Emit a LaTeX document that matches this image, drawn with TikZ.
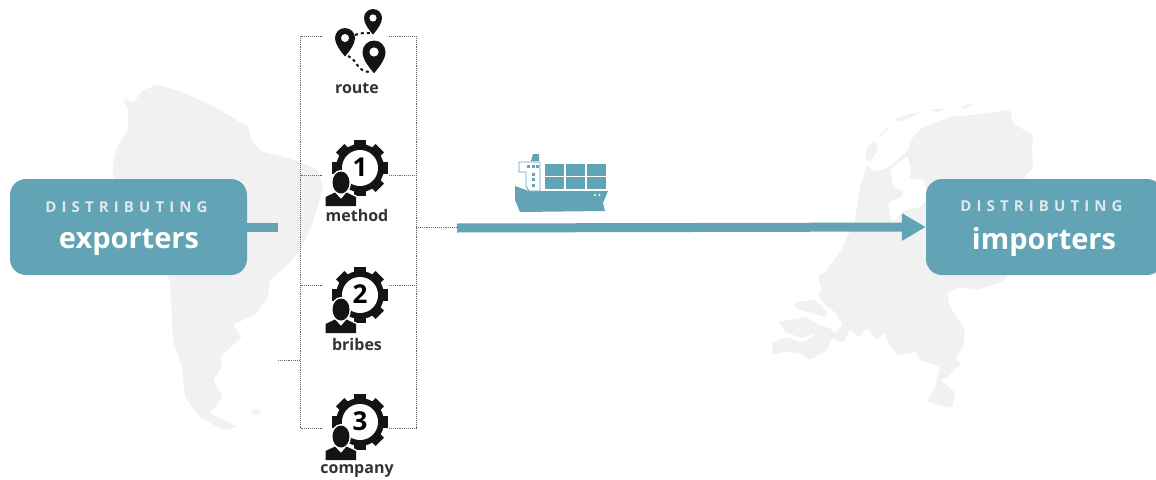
\documentclass[tikz,border=0pt]{standalone}
\usepackage{fontspec}
\setmainfont{Open Sans}
\newfontfamily\spacedfont[LetterSpace=34]{Open Sans}
\usetikzlibrary{arrows.meta}
\definecolor{flow teal}{HTML}{62A4B6}
\definecolor{map grey}{HTML}{F1F1F1}
\definecolor{icon black}{HTML}{141414}
\definecolor{label dark}{HTML}{333333}
\definecolor{caption light}{HTML}{DFE8EA}
\def\personbody{(-34.5,38) -- (-34.5,29) -- (-25,24.5) -- (-19,31) -- (-13.5,24.5) -- (-4,29) -- (-4,38) -- cycle}
\def\personhead{(-19,14.5) ellipse (8.5 and 11)}
\tikzset{
  mapshape/.style={fill=map grey,rounded corners=1.5pt},
  seagap/.style={fill=white,rounded corners=1.5pt},
  partybox/.style={fill=flow teal,rounded corners=16pt,minimum width=237pt,minimum height=96pt,inner sep=0pt},
  caption/.style={text=caption light,font=\spacedfont\bfseries\fontsize{15}{17}\selectfont},
  partyname/.style={text=white,font=\bfseries\fontsize{29}{33}\selectfont},
  iconlabel/.style={text=label dark,font=\bfseries\fontsize{16}{19}\selectfont},
  flowline/.style={draw=flow teal,line width=9pt},
  bracket/.style={draw=black!60,line width=.9pt,densely dotted},
  pin/.pic={
    \fill[icon black] (0,1.85) .. controls (-.5,1.25) and (-1,.6) .. (-1,0) .. controls (-1,-.55) and (-.55,-1) .. (0,-1) .. controls (.55,-1) and (1,-.55) .. (1,0) .. controls (1,.6) and (.5,1.25) .. (0,1.85) -- cycle;
    \fill[white] (0,0) circle (.4);
  },
  pics/gearman/.style={code={
    \foreach \a in {0,45,...,315}
      \fill[icon black,rotate=\a] (-6,-28) rectangle (6,0);
    \fill[icon black] (0,0) circle (24);
    \fill[white] (0,0) circle (18);
    \node[text=black,font=\bfseries\fontsize{26}{26}\selectfont,inner sep=0pt] (-digit) at (0,-1) {#1};
    \draw[white,line width=3pt,line join=round] \personbody;
    \draw[white,line width=3pt] \personhead;
    \fill[icon black] \personbody;
    \fill[icon black] \personhead;
  }},
}
\begin{document}
\begin{tikzpicture}[x=1pt,y=-1pt]
\useasboundingbox (0,0) rectangle (1156,479);

% south america
\fill[mapshape] (157,85) -- (177,90) -- (200,100) -- (217,108) -- (233,118) -- (248,127) -- (253,143) -- (263,152) -- (277,155) -- (300,162) -- (318,170) -- (323,187) -- (318,205) -- (312,225) -- (303,245) -- (290,263) -- (280,272) -- (270,280) -- (268,297) -- (257,313) -- (233,325) -- (242,337) -- (220,357) -- (222,367) -- (213,380) -- (223,397) -- (210,413) -- (238,427) -- (223,430) -- (200,417) -- (185,397) -- (182,367) -- (173,340) -- (170,280) -- (140,240) -- (113,178) -- (113,163) -- (117,147) -- (128,130) -- (128,110) -- (123,98) -- (133,103) -- (143,90) -- cycle;
\fill[mapshape] (250,411) -- (262,410) -- (258,415) -- (252,414) -- cycle;

% netherlands
\fill[mapshape] (950,117) -- (973,115) -- (1010,110) -- (1013,123) -- (1027,132) -- (1033,135) -- (1032,150) -- (1033,167) -- (1023,180) -- (1030,230) -- (1007,277) -- (1000,283) -- (977,290) -- (960,287) -- (947,293) -- (950,307) -- (957,317) -- (965,330) -- (963,347) -- (955,360) -- (962,363) -- (947,377) -- (940,380) -- (955,392) -- (952,408) -- (927,402) -- (935,387) -- (940,367) -- (920,360) -- (917,352) -- (898,355) -- (888,343) -- (885,332) -- (877,340) -- (867,328) -- (858,337) -- (850,330) -- (843,343) -- (832,337) -- (827,350) -- (810,360) -- (800,353) -- (783,352) -- (773,355) -- (772,342) -- (787,337) -- (803,343) -- (817,333) -- (835,333) -- (843,325) -- (835,312) -- (825,305) -- (818,295) -- (822,290) -- (818,275) -- (825,273) -- (843,247) -- (855,220) -- (860,187) -- (867,165) -- (873,172) -- (888,168) -- (907,152) -- (913,137) -- (923,127) -- cycle;
\fill[seagap] (890,170) -- (907,156) -- (911,167) -- (909,178) -- (925,181) -- (927,200) -- (918,208) -- (905,210) -- (892,222) -- (888,203) -- (902,197) -- (903,190) -- (893,187) -- cycle;
\fill[mapshape] (875,140) -- (878,150) -- (870,162) -- (865,158) -- (867,147) -- cycle;
\fill[mapshape] (877,137) -- (890,126) -- (882,136) -- cycle;
\fill[mapshape] (895,118) -- (923,111) -- (905,120) -- (896,122) -- cycle;
\fill[mapshape] (928,110) -- (948,108) -- (936,112) -- cycle;
\fill[mapshape] (960,107) -- (975,103) -- (970,107) -- (962,109) -- cycle;
\fill[mapshape] (795,302) -- (815,300) -- (827,312) -- (827,317) -- (810,313) -- (795,308) -- cycle;
\fill[mapshape] (778,322) -- (807,317) -- (813,322) -- (833,330) -- (833,335) -- (815,333) -- (803,338) -- (787,333) -- cycle;

\node[partybox] (exporters) at (128.5,227) {};
\node[partybox] (importers) at (1044.5,227) {};
\node[caption] (exportcap) at (126.5,207) {DISTRIBUTING};
\node[partyname] (exportname) at (129,242) {exporters};
\node[caption] (importcap) at (1041.5,206) {DISTRIBUTING};
\node[partyname] (importname) at (1044,241.5) {importers};

\coordinate (stubend) at (278,227);
\coordinate (trunk) at (416,227);
\coordinate (linestart) at (457,228);
\draw[flowline] (exporters.east) -- (stubend);
\draw[flowline,-{Triangle[length=24pt,width=26pt]}] (linestart) -- (importers.west);

% dotted bracket
\coordinate (topleft) at (300.5,36);
\coordinate (topright) at (416,36);
\coordinate (botleft) at (300.5,428);
\coordinate (botright) at (416,428);
\coordinate (leftstub) at (278,360.5);
\draw[bracket] (topleft) -- (botleft) (topright) -- (botright);
\draw[bracket] (leftstub) -- (leftstub -| botleft);
\draw[bracket] (trunk) -- (linestart |- trunk);
\foreach \y in {36,175,285,428} {
  \draw[bracket] (300.5,\y) -- (323,\y);
  \draw[bracket] (389,\y) -- (416,\y);
}

% route icon
\draw[icon black,line width=2pt,dashed] (355,35) .. controls (360,33) and (364,33) .. (370,33);
\draw[icon black,line width=2pt,dashed] (348,56) .. controls (358,60) and (356,72) .. (371,72);
\pic[scale=9] at (373,18) {pin};
\pic[scale=10] at (345,38) {pin};
\pic[scale=11.5] at (374,52) {pin};
\node[iconlabel] (route) at (357,88) {route};

\pic (methodgear) at (360,168) {gearman=1};
\pic (bribesgear) at (360,295) {gearman=2};
\pic (companygear) at (360,422) {gearman=3};
\node[iconlabel] (method) at (357,215.5) {method};
\node[iconlabel] (bribes) at (357,344) {bribes};
\node[iconlabel] (company) at (357,471) {company};

% ship
\fill[flow teal] (515,186) -- (529,191) -- (608,191) -- (603,203) -- (605,211) -- (520,212) -- (515,200) -- cycle;
\fill[flow teal] (531,161) -- (533,154) -- (539,154) -- (539,161) -- cycle;
\filldraw[fill=white,draw=flow teal,line width=.8pt] (519,162) -- (540,162) -- (540,191) -- (529,191) -- (526,186) -- (526,172) -- (519,172) -- cycle;
\foreach \x in {527,531.5,536}
  \fill[flow teal] (\x,165) rectangle ++(3,3);
\foreach \y in {173,178,183.5}
  \fill[flow teal] (532,\y) rectangle ++(3,3);
\foreach \x in {545,566,587}
  \foreach \y in {164,177}
    \fill[flow teal] (\x,\y) rectangle ++(19,12);
\fill[white] (595,195) circle (1.2) (599.5,195) circle (1.2);
\end{tikzpicture}
\end{document}
